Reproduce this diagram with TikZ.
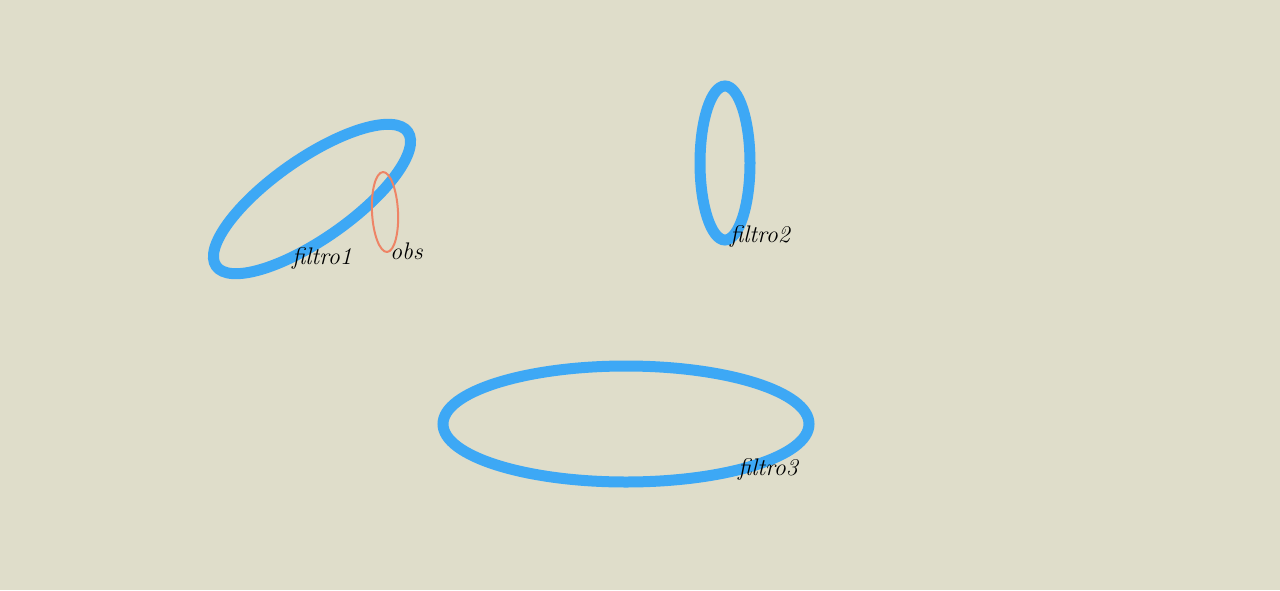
\documentclass[tikz,border=0pt]{standalone}
\begin{document}
\begin{tikzpicture}[x=1pt,y=-1pt,
  ring/.style={draw=ringblue,line width=11pt},
  obsring/.style={draw=obsorange,line width=2pt},
  lab/.style={font=\fontsize{24}{24}\selectfont\itshape,text=black,inner sep=0pt}]
\definecolor{ringblue}{HTML}{3DA8F5}
\definecolor{obsorange}{HTML}{EE8466}
\definecolor{paper}{HTML}{DFDDCA}
\fill[paper] (0,0) rectangle (1280,590);
\useasboundingbox (0,0) rectangle (1280,590);
\draw[ring,rotate around={35:(312,199)}] (312,199) ellipse [x radius=117, y radius=40];
\draw[obsring,rotate around={3:(385,212)}] (385,212) ellipse [x radius=13, y radius=40];
\draw[ring] (725,163) ellipse [x radius=25, y radius=77];
\draw[ring] (626,424) ellipse [x radius=183, y radius=58];
\node[lab,anchor=base west] (f1) at (292,264) {filtro1};
\node[lab,anchor=base west] (obs) at (390,259) {obs};
\node[lab,anchor=base west] (f2) at (730,242) {filtro2};
\node[lab,anchor=base west] (f3) at (738,475) {filtro3};
\end{tikzpicture}
\end{document}
